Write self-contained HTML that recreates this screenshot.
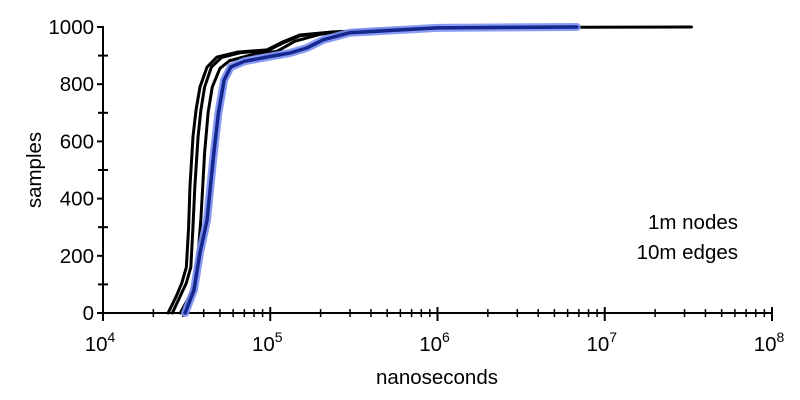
<!DOCTYPE html>
<html><head><meta charset="utf-8"><style>
body{margin:0;background:#fff}
svg{display:block;font-family:"Liberation Sans",sans-serif}
</style></head><body>
<svg id="c" width="800" height="400"></svg>
<script>
const xTickExps=[4,5,6,7,8];
const yTicks=[0,200,400,600,800,1000];
const seriesBlack1=[[24500,0],[27500,60],[29600,105],[31500,160],[32500,300],[33100,440],[34500,615],[36000,710],[38000,790],[41900,860],[48000,895],[63300,912],[95700,920],[119000,948],[150000,972],[237000,983],[1000000,998],[33000000,1000]];
const seriesBlack2=[[26000,0],[29000,60],[31500,105],[33500,160],[34500,300],[35400,440],[37000,615],[38500,710],[40500,790],[44500,860],[51000,893],[66000,910],[97000,918],[121000,946],[152000,970],[240000,982],[1000000,998],[3000000,1000]];
const seriesBlack3=[[29000,0],[33000,60],[35000,100],[37000,200],[38500,330],[40500,560],[42500,700],[45000,790],[50000,855],[57000,882],[80000,905],[110000,915],[140000,950],[200000,975],[400000,990],[1000000,998],[7000000,1000]];
const seriesBlue=[[31000,0],[35000,80],[38000,210],[41900,325],[44000,450],[46000,560],[49000,700],[53000,815],[58000,860],[70000,880],[95700,895],[131000,909],[166000,927],[207000,955],[300000,980],[1000000,997],[6800000,1000]];

const NS="http://www.w3.org/2000/svg";
const svg=document.getElementById('c');
const X0=103,DEC=167.25,Y0=313,YS=0.286;
const xs=v=>X0+(Math.log10(v)-4)*DEC;
const ys=v=>Y0-v*YS;
function mk(t,a,p){const e=document.createElementNS(NS,t);for(const k in a)e.setAttribute(k,a[k]);(p||svg).appendChild(e);return e;}

let e=mk('line',{x1:X0,y1:Y0,x2:xs(1e8),y2:Y0,stroke:'#000','stroke-width':2});


e=mk('line',{x1:X0,y1:ys(1000)-1,x2:X0,y2:Y0+1,stroke:'#000','stroke-width':2});



for(let v=0;v<=1000;v+=100){
  const major=v%200===0;
  mk('line',{x1:major?X0-6:X0-5,y1:ys(v),x2:major?X0:X0+5,y2:ys(v),stroke:'#000','stroke-width':2});
}
yTicks.forEach(v=>{
  const t=mk('text',{x:X0-9,y:ys(v)+7,'text-anchor':'end','font-size':20.5});
  t.textContent=v;
  
  
});
xTickExps.forEach(ex=>{
  const px=xs(Math.pow(10,ex));
  mk('line',{x1:px,y1:Y0-6,x2:px,y2:Y0+8,stroke:'#000','stroke-width':2});
  if(ex<8)for(let m=2;m<10;m++){const q=xs(m*Math.pow(10,ex));mk('line',{x1:q,y1:Y0-4,x2:q,y2:Y0+4,stroke:'#000','stroke-width':1.5});}
  const t=mk('text',{x:px-3,y:Y0+38,'text-anchor':'middle','font-size':20.5});
  t.textContent='10';
  const s=mk('tspan',{dy:-9,'font-size':14},t);s.textContent=ex;
  
  
});

function line(d,stroke,w,name,op){
  const p=mk('polyline',{points:d.map(a=>xs(a[0])+','+ys(a[1])).join(' '),fill:'none',stroke:stroke,'stroke-width':w,'stroke-linejoin':'round','stroke-linecap':'round',opacity:op||1});
  
  
}
line(seriesBlack1,'#000',3,'series-black-1');
line(seriesBlack2,'#000',3,'series-black-2');
line(seriesBlack3,'#000',3,'series-black-3');
line(seriesBlue,'#7d90f2',8,'series-blue-halo',0.9);
line(seriesBlue,'#15268f',3.5,'series-blue');

function txt(s,a,name){const t=mk('text',a);t.textContent=s;}
txt('nanoseconds',{x:437,y:384,'text-anchor':'middle','font-size':20.5},'x-axis-title');
txt('samples',{x:0,y:0,transform:'translate(41,170) rotate(-90)','text-anchor':'middle','font-size':20.5},'y-axis-title');
txt('1m nodes',{x:738,y:229,'text-anchor':'end','font-size':20.5},'annotation-nodes');
txt('10m edges',{x:738,y:259,'text-anchor':'end','font-size':20.5},'annotation-edges');
</script>
</body></html>
